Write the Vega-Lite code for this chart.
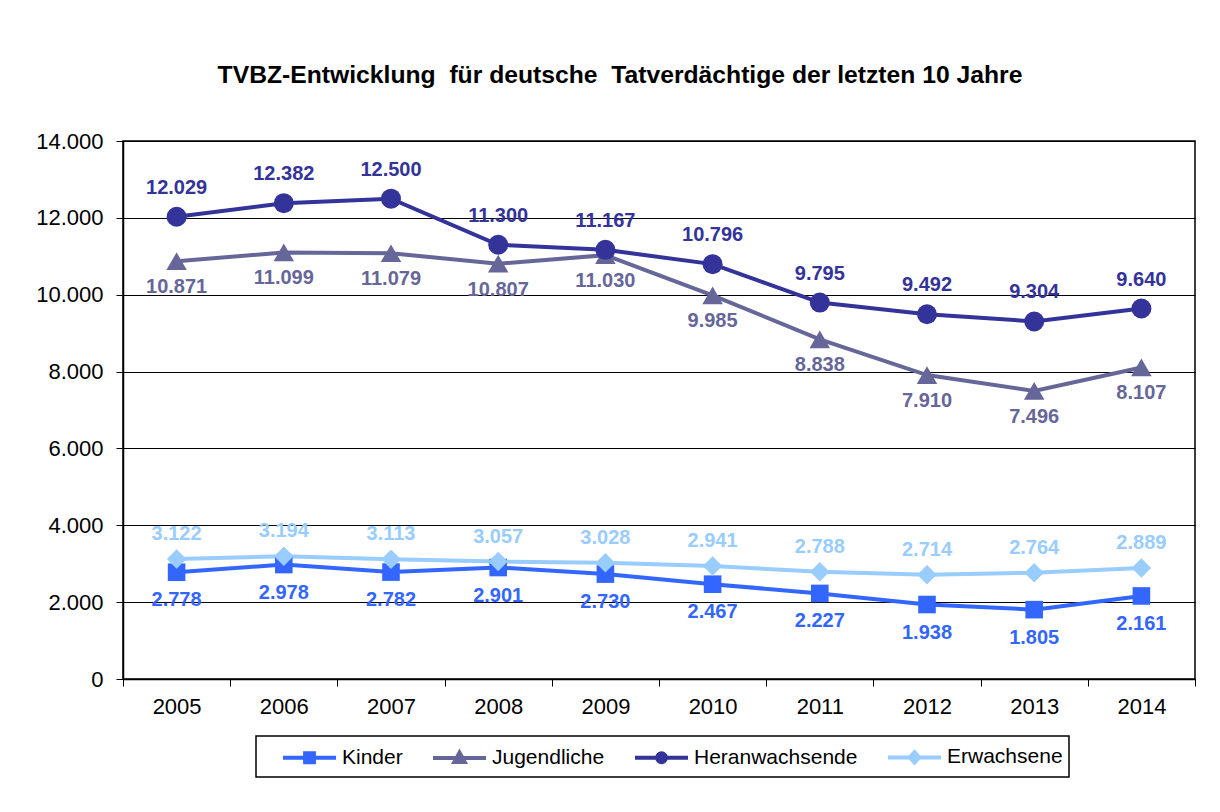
{
  "$schema": "https://vega.github.io/schema/vega-lite/v6.json",
  "width": 1072,
  "height": 538,
  "autosize": {"type": "none"},
  "padding": {"left": 123, "top": 141, "right": 25, "bottom": 133},
  "background": "white",
  "config": {
    "font": "Liberation Sans",
    "locale": {"number": {"decimal": ",", "thousands": ".", "grouping": [3], "currency": ["", " €"]}},
    "view": {"stroke": "black", "strokeWidth": 1.5},
    "axis": {"labelFont": "Liberation Sans", "labelColor": "black", "domainColor": "black", "tickColor": "black", "gridColor": "black", "gridOpacity": 1, "gridWidth": 1}
  },
  "title": {
    "text": "TVBZ-Entwicklung \u00a0für deutsche \u00a0Tatverdächtige der letzten 10 Jahre",
    "fontSize": 24.7,
    "fontWeight": "bold",
    "color": "black",
    "anchor": "middle",
    "dx": -39,
    "offset": 42
  },
  "data": {
    "values": [
      {"jahr": "2005", "gruppe": "Kinder", "wert": 2778},
      {"jahr": "2006", "gruppe": "Kinder", "wert": 2978},
      {"jahr": "2007", "gruppe": "Kinder", "wert": 2782},
      {"jahr": "2008", "gruppe": "Kinder", "wert": 2901},
      {"jahr": "2009", "gruppe": "Kinder", "wert": 2730},
      {"jahr": "2010", "gruppe": "Kinder", "wert": 2467},
      {"jahr": "2011", "gruppe": "Kinder", "wert": 2227},
      {"jahr": "2012", "gruppe": "Kinder", "wert": 1938},
      {"jahr": "2013", "gruppe": "Kinder", "wert": 1805},
      {"jahr": "2014", "gruppe": "Kinder", "wert": 2161},
      {"jahr": "2005", "gruppe": "Jugendliche", "wert": 10871},
      {"jahr": "2006", "gruppe": "Jugendliche", "wert": 11099},
      {"jahr": "2007", "gruppe": "Jugendliche", "wert": 11079},
      {"jahr": "2008", "gruppe": "Jugendliche", "wert": 10807},
      {"jahr": "2009", "gruppe": "Jugendliche", "wert": 11030},
      {"jahr": "2010", "gruppe": "Jugendliche", "wert": 9985},
      {"jahr": "2011", "gruppe": "Jugendliche", "wert": 8838},
      {"jahr": "2012", "gruppe": "Jugendliche", "wert": 7910},
      {"jahr": "2013", "gruppe": "Jugendliche", "wert": 7496},
      {"jahr": "2014", "gruppe": "Jugendliche", "wert": 8107},
      {"jahr": "2005", "gruppe": "Heranwachsende", "wert": 12029},
      {"jahr": "2006", "gruppe": "Heranwachsende", "wert": 12382},
      {"jahr": "2007", "gruppe": "Heranwachsende", "wert": 12500},
      {"jahr": "2008", "gruppe": "Heranwachsende", "wert": 11300},
      {"jahr": "2009", "gruppe": "Heranwachsende", "wert": 11167},
      {"jahr": "2010", "gruppe": "Heranwachsende", "wert": 10796},
      {"jahr": "2011", "gruppe": "Heranwachsende", "wert": 9795},
      {"jahr": "2012", "gruppe": "Heranwachsende", "wert": 9492},
      {"jahr": "2013", "gruppe": "Heranwachsende", "wert": 9304},
      {"jahr": "2014", "gruppe": "Heranwachsende", "wert": 9640},
      {"jahr": "2005", "gruppe": "Erwachsene", "wert": 3122},
      {"jahr": "2006", "gruppe": "Erwachsene", "wert": 3194},
      {"jahr": "2007", "gruppe": "Erwachsene", "wert": 3113},
      {"jahr": "2008", "gruppe": "Erwachsene", "wert": 3057},
      {"jahr": "2009", "gruppe": "Erwachsene", "wert": 3028},
      {"jahr": "2010", "gruppe": "Erwachsene", "wert": 2941},
      {"jahr": "2011", "gruppe": "Erwachsene", "wert": 2788},
      {"jahr": "2012", "gruppe": "Erwachsene", "wert": 2714},
      {"jahr": "2013", "gruppe": "Erwachsene", "wert": 2764},
      {"jahr": "2014", "gruppe": "Erwachsene", "wert": 2889}
    ]
  },
  "encoding": {
    "x": {
      "field": "jahr", "type": "ordinal",
      "scale": {"paddingInner": 0, "paddingOuter": 0},
      "axis": {"title": null, "labelAngle": 0, "labelFontSize": 22, "labelPadding": 10, "tickBand": "extent", "tickSize": 7, "grid": false, "domainWidth": 1.5}
    },
    "y": {
      "field": "wert", "type": "quantitative",
      "scale": {"domain": [0, 14000], "nice": false},
      "axis": {"title": null, "values": [0, 2000, 4000, 6000, 8000, 10000, 12000, 14000], "format": ",d", "labelFontSize": 22, "labelPadding": 13, "tickSize": 7, "domainWidth": 1.5}
    }
  },
  "layer": [
    {
      "mark": {"type": "line", "strokeWidth": 4},
      "encoding": {
        "color": {
          "field": "gruppe", "type": "nominal",
          "scale": {"domain": ["Kinder", "Jugendliche", "Heranwachsende", "Erwachsene"], "range": ["#3366FF", "#666699", "#333399", "#99CCFF"]},
          "legend": {
            "title": null,
            "orient": "none",
            "legendX": 133,
            "legendY": 595,
            "direction": "horizontal",
            "columns": 4,
            "strokeColor": "black",
            "padding": 6,
            "labelFontSize": 21,
            "labelColor": "black",
            "labelFont": "Liberation Sans",
            "labelLimit": 400,
            "labelExpr": "datum.label === 'Erwachsene' ? datum.label + '\u00a0\u00a0\u00a0' : datum.label",
            "columnPadding": 9,
            "symbolSize": 676,
            "symbolOffset": 19,
            "symbolStrokeWidth": 4,
            "labelOffset": 31,
            "symbolOpacity": 1,
            "encode": {
              "legend": {"update": {"strokeWidth": {"value": 1.5}}},
              "symbols": {
                "update": {
                  "fill": {"scale": "color", "field": "value"},
                  "stroke": {"scale": "color", "field": "value"},
                  "shape": {"signal": "datum.value === 'Kinder' ? 'M-1,0H3.08M0.7,-0.34H1.38V0.34H0.7Z' : datum.value === 'Jugendliche' ? 'M-1,0H3.08M1.04,-0.4L1.44,0.32H0.64Z' : datum.value === 'Heranwachsende' ? 'M-1,0H3.08M0.7,0A0.34,0.34 0 1,0 1.38,0A0.34,0.34 0 1,0 0.7,0Z' : 'M-1,0H3.08M1.04,-0.4L1.4,0L1.04,0.4L0.68,0Z'"}
                }
              }
            }
          }
        }
      }
    },
    {
      "transform": [{"filter": "datum.gruppe === 'Kinder'"}],
      "mark": {"type": "point", "filled": true, "opacity": 1, "shape": "square", "size": 310, "color": "#3366FF"}
    },
    {
      "transform": [{"filter": "datum.gruppe === 'Jugendliche'"}],
      "mark": {"type": "point", "filled": true, "opacity": 1, "shape": "triangle-up", "size": 420, "color": "#666699"}
    },
    {
      "transform": [{"filter": "datum.gruppe === 'Heranwachsende'"}],
      "mark": {"type": "point", "filled": true, "opacity": 1, "shape": "circle", "size": 400, "color": "#333399"}
    },
    {
      "transform": [{"filter": "datum.gruppe === 'Erwachsene'"}],
      "mark": {"type": "point", "filled": true, "opacity": 1, "shape": "diamond", "size": 380, "color": "#99CCFF"}
    },
    {
      "transform": [{"filter": "datum.gruppe === 'Heranwachsende'"}],
      "mark": {"type": "text", "fontSize": 20, "fontWeight": "bold", "dy": -29, "color": "#333399"},
      "encoding": {"text": {"field": "wert", "type": "quantitative", "format": ",d"}}
    },
    {
      "transform": [{"filter": "datum.gruppe === 'Jugendliche'"}],
      "mark": {"type": "text", "fontSize": 20, "fontWeight": "bold", "dy": 26, "color": "#666699"},
      "encoding": {"text": {"field": "wert", "type": "quantitative", "format": ",d"}}
    },
    {
      "transform": [{"filter": "datum.gruppe === 'Kinder'"}],
      "mark": {"type": "text", "fontSize": 20, "fontWeight": "bold", "dy": 28, "color": "#3366FF"},
      "encoding": {"text": {"field": "wert", "type": "quantitative", "format": ",d"}}
    },
    {
      "transform": [{"filter": "datum.gruppe === 'Erwachsene'"}],
      "mark": {"type": "text", "fontSize": 20, "fontWeight": "bold", "dy": -25, "color": "#99CCFF"},
      "encoding": {"text": {"field": "wert", "type": "quantitative", "format": ",d"}}
    }
  ]
}
